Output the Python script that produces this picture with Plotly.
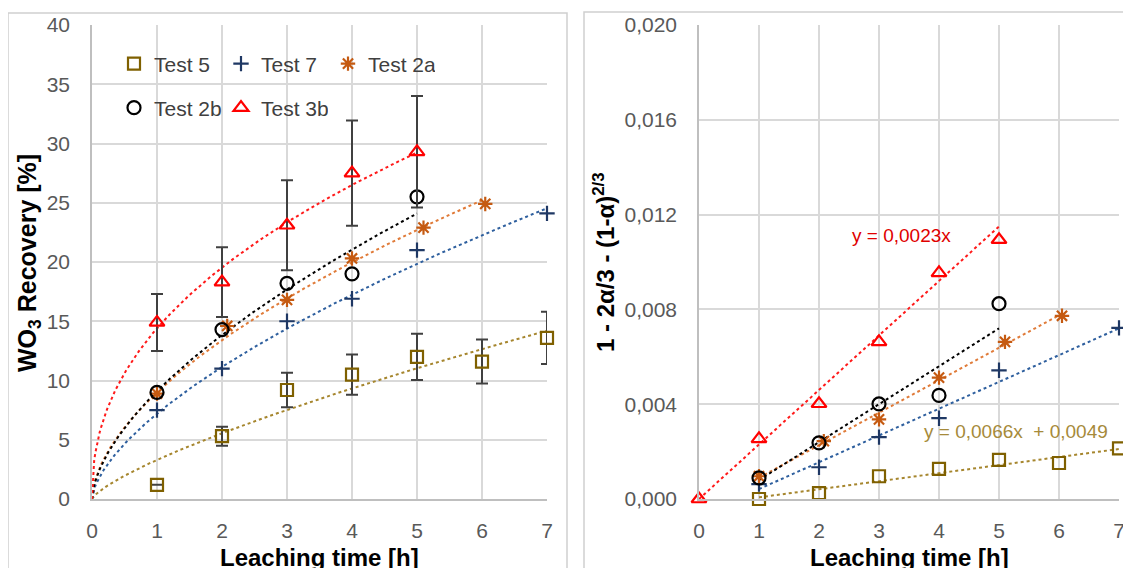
import numpy as np
import plotly.graph_objects as go

# the page body adds an 8 px margin; the figure is sized to fill the rest of the window
PAGE_W, PAGE_H = 1131, 568
OFF = 8
W, H = PAGE_W - OFF, PAGE_H - OFF

# ---------------- data: left panel (WO3 recovery, %) ----------------
names = ["Test 5", "Test 7", "Test 2a", "Test 2b", "Test 3b"]

t5_x = [1, 2, 3, 4, 5, 6, 7]
t5_y = [1.2, 5.3, 9.2, 10.5, 12.0, 11.6, 13.6]
t5_err = [0, 0.8, 1.45, 1.7, 1.95, 1.85, 2.2]
t7_x = [1, 2, 3, 4, 5, 7]
t7_y = [7.5, 11.0, 15.0, 16.9, 21.0, 24.1]
t2a_x = [1, 2.08, 3, 4, 5.1, 6.05]
t2a_y = [8.9, 14.6, 16.8, 20.3, 22.9, 24.9]
t2b_x = [1, 2, 3, 4, 5]
t2b_y = [9.0, 14.3, 18.2, 19.0, 25.5]
t3b_x = [1, 2, 3, 4, 5]
t3b_y = [14.9, 18.3, 23.1, 27.5, 29.3]
t3b_err = [2.4, 2.95, 3.8, 4.45, 4.7]

# power-law trendlines (y = a * x^b) on the left panel
power_a = [3.3, 7.2, 9.0, 9.1, 14.4]
power_b = [0.75, 0.63, 0.575, 0.605, 0.44]
power_xmax = [7, 7, 6, 5, 5]

# ---------------- data: right panel (1 - 2a/3 - (1-a)^(2/3)) ----------------
r5_x = [1, 2, 3, 4, 5, 6, 7]
r5_y = [0.0000, 0.00025, 0.00096, 0.00127, 0.00165, 0.00152, 0.00214]
r7_x = [1, 2, 3, 4, 5, 7]
r7_y = [0.00063, 0.00134, 0.00261, 0.00341, 0.00543, 0.00722]
r2a_x = [1, 2.08, 3, 4, 5.1, 6.05]
r2a_y = [0.00096, 0.00244, 0.00336, 0.00512, 0.00663, 0.00773]
r2b_x = [1, 2, 3, 4, 5]
r2b_y = [0.00089, 0.00237, 0.00401, 0.00437, 0.00824]
r3b_x = [0, 1, 2, 3, 4, 5]
r3b_y = [0, 0.00254, 0.00402, 0.00663, 0.00954, 0.01094]

# linear trendlines on the right panel
lin_slope = [0.00034, 0.00113, 0.00137, 0.0016, 0.0023]
lin_icpt = [-0.00027, -0.00071, -0.00047, -0.0008, 0.0]
lin_xmin = [1, 1, 1, 1, 0]
lin_xmax = [7, 7, 6, 5, 5]

eq_labels = ["y = 0,0066x  + 0,0049", "y = 0,0023x"]

# ---------------- styles ----------------
FONT = "Liberation Sans, Arial, sans-serif"
mk_color = ["#7F6000", "#1F3864", "#C55A11", "#000000", "#FF0000"]
ln_color = ["#A6862E", "#2E5F9E", "#E07B39", "#000000", "#FF1A1A"]
symbols = ["square-open", "cross-thin-open", "asterisk-open", "circle-open", "triangle-up-open"]
sizes = [12, 11, 12, 13, 13]
legends = ["legend", "legend", "legend", "legend2", "legend2"]

left_x = [t5_x, t7_x, t2a_x, t2b_x, t3b_x]
left_y = [t5_y, t7_y, t2a_y, t2b_y, t3b_y]
left_err = [t5_err, None, None, None, t3b_err]
right_x = [r5_x, r7_x, r2a_x, r2b_x, r3b_x]
right_y = [r5_y, r7_y, r2a_y, r2b_y, r3b_y]

fig = go.Figure()

# trendlines first (underneath markers)
for i in range(5):
    xs = np.linspace(0, power_xmax[i], 300)
    ys = power_a[i] * np.power(xs, power_b[i])
    fig.add_trace(go.Scatter(x=xs, y=ys, mode="lines", xaxis="x", yaxis="y",
                             line=dict(color=ln_color[i], width=2, dash="dot"),
                             showlegend=False, hoverinfo="skip"))
    xl = np.array([lin_xmin[i], lin_xmax[i]], dtype=float)
    yl = lin_slope[i] * xl + lin_icpt[i]
    fig.add_trace(go.Scatter(x=xl, y=yl, mode="lines", xaxis="x2", yaxis="y2",
                             line=dict(color=ln_color[i], width=2, dash="dot"),
                             showlegend=False, hoverinfo="skip"))

for i in range(5):
    err = None
    if left_err[i] is not None:
        err = dict(type="data", array=left_err[i], visible=True, color="#404040",
                   thickness=2, width=6)
    fig.add_trace(go.Scatter(
        x=left_x[i], y=left_y[i], mode="markers", name=names[i], xaxis="x", yaxis="y",
        marker=dict(symbol=symbols[i], size=sizes[i], color=mk_color[i],
                    line=dict(color=mk_color[i], width=2.2)),
        error_y=err, cliponaxis=False, legend=legends[i]))
    fig.add_trace(go.Scatter(
        x=right_x[i], y=right_y[i], mode="markers", name=names[i], xaxis="x2", yaxis="y2",
        marker=dict(symbol=symbols[i], size=sizes[i], color=mk_color[i],
                    line=dict(color=mk_color[i], width=2.2)),
        cliponaxis=False, showlegend=False))


def px_x(p):
    """page pixel x -> paper fraction"""
    return (p - OFF) / W


def px_y(p):
    """page pixel y -> paper fraction"""
    return 1 - (p - OFF) / H


grid = "#D9D9D9"
axline = "#BFBFBF"
tickfont = dict(family=FONT, size=21, color="#595959")

common_x = dict(range=[0, 7], dtick=1, tick0=0, showgrid=True, gridcolor=grid, gridwidth=1.5,
                showline=True, linecolor=axline, linewidth=1.5, zeroline=False,
                ticks="", tickfont=tickfont, ticklabelstandoff=12, fixedrange=True,
                automargin=False)
common_y = dict(showgrid=True, gridcolor=grid, gridwidth=1.5, showline=True, linecolor=axline,
                linewidth=1.5, zeroline=False, ticks="", tickfont=tickfont,
                ticklabelstandoff=16, fixedrange=True, automargin=False)

fig.update_layout(
    width=W, height=H, autosize=False,
    margin=dict(l=0, r=0, t=0, b=0, autoexpand=False),
    paper_bgcolor="white", plot_bgcolor="white",
    separators=",.",
    font=dict(family=FONT),
    xaxis=dict(domain=[px_x(92), px_x(547)], anchor="y", **common_x),
    yaxis=dict(domain=[px_y(499), px_y(25)], anchor="x", range=[0, 40], dtick=5, **common_y),
    xaxis2=dict(domain=[px_x(699), px_x(1119)], anchor="y2", **common_x),
    yaxis2=dict(domain=[px_y(499), px_y(25)], anchor="x2", range=[0, 0.020], dtick=0.004,
                tickformat=".3f", **common_y),
    legend=dict(orientation="h", x=px_x(114), y=px_y(64), xanchor="left", yanchor="middle",
                bgcolor="rgba(0,0,0,0)", font=dict(family=FONT, size=21, color="#404040"),
                entrywidth=62, entrywidthmode="pixels", itemwidth=30, traceorder="normal"),
    legend2=dict(orientation="h", x=px_x(114), y=px_y(108), xanchor="left", yanchor="middle",
                 bgcolor="rgba(0,0,0,0)", font=dict(family=FONT, size=21, color="#404040"),
                 entrywidth=62, entrywidthmode="pixels", itemwidth=30, traceorder="normal"),
)

# chart-area frames
fig.add_shape(type="rect", xref="paper", yref="paper", x0=px_x(8), x1=px_x(567),
              y0=px_y(580), y1=px_y(13), line=dict(color="#D0D0D0", width=1.5), layer="below")
fig.add_shape(type="rect", xref="paper", yref="paper", x0=px_x(584), x1=px_x(1145),
              y0=px_y(580), y1=px_y(12), line=dict(color="#D0D0D0", width=1.5), layer="below")

title_font = dict(family=FONT, size=24, color="#000000")
fig.add_annotation(text="<b>Leaching time [h]</b>", xref="paper", yref="paper",
                   x=px_x(319), y=px_y(557), showarrow=False, font=title_font,
                   xanchor="center", yanchor="middle")
fig.add_annotation(text="<b>Leaching time [h]</b>", xref="paper", yref="paper",
                   x=px_x(909), y=px_y(557), showarrow=False, font=title_font,
                   xanchor="center", yanchor="middle")
fig.add_annotation(text="<b>WO<sub>3</sub> Recovery [%]</b>", xref="paper", yref="paper",
                   x=px_x(29), y=px_y(263), showarrow=False,
                   font=dict(family=FONT, size=25, color="#000000"), textangle=-90,
                   xanchor="center", yanchor="middle")
fig.add_annotation(text="<b>1 - 2α/3 - (1-α)<sup>2/3</sup></b>", xref="paper", yref="paper",
                   x=px_x(604), y=px_y(262), showarrow=False,
                   font=dict(family=FONT, size=24, color="#000000"), textangle=-90,
                   xanchor="center", yanchor="middle")

# trendline equations
fig.add_annotation(text=eq_labels[0], xref="x2", yref="y2", x=5.28, y=0.00286,
                   showarrow=False, font=dict(family=FONT, size=19, color="#A68A3A"))
fig.add_annotation(text=eq_labels[1], xref="x2", yref="y2", x=3.38, y=0.0111,
                   showarrow=False, font=dict(family=FONT, size=19, color="#E00000"))

fig.write_html("out.html")
